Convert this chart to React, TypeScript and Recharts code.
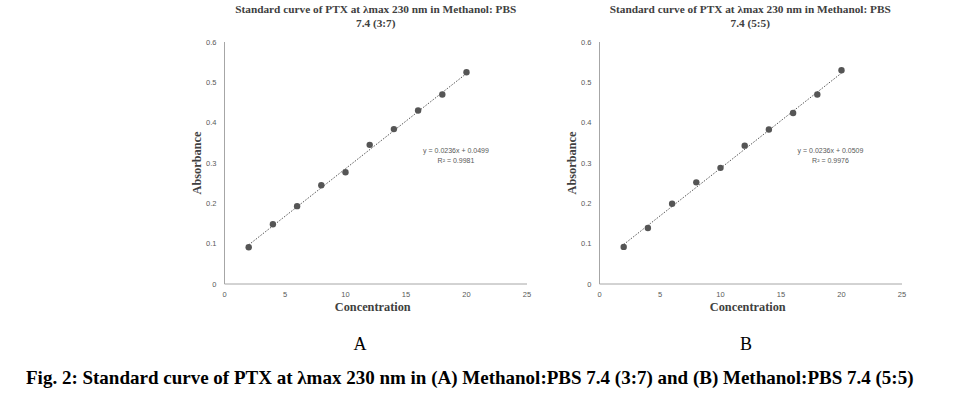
import { Scatter, ScatterChart, XAxis, YAxis } from "recharts";

// Concentration (x) shared by both curves
const concentration = [2, 4, 6, 8, 10, 12, 14, 16, 18, 20];
// Absorbance
const absorbanceA = [0.091, 0.148, 0.193, 0.245, 0.277, 0.345, 0.384, 0.43, 0.47, 0.525];
const absorbanceB = [0.092, 0.139, 0.199, 0.252, 0.288, 0.343, 0.383, 0.424, 0.47, 0.53];
// trendline end points (x = 2 and x = 20)
const trendX = [2, 20];
const trendA = [0.097, 0.522];
const trendB = [0.098, 0.523];

const xTicks = [0, 5, 10, 15, 20, 25];
const yTicks = [0, 0.1, 0.2, 0.3, 0.4, 0.5, 0.6];

const MARK = "#555555";
const AXIS = "#a6a6a6";
const TICK = "#595959";
const SERIF = "'Liberation Serif', 'Times New Roman', serif";
const SANS = "'Liberation Sans', Arial, sans-serif";

const toPoints = (xs: number[], ys: number[]) => xs.map((x, i) => ({ x, y: ys[i] }));

function Dot(props: any) {
  return <circle cx={props.cx} cy={props.cy} r={3.2} fill={MARK} />;
}

function CurveChart({
  title,
  values,
  trend,
  equation,
  r2,
  left,
}: {
  title: string[];
  values: number[];
  trend: number[];
  equation: string;
  r2: string;
  left: number;
}) {
  const points = toPoints(concentration, values);
  const trendPoints = toPoints(trendX, trend);
  return (
    <div style={{ position: "absolute", left, top: 0, width: 400, height: 330 }}>
      <div
        style={{
          position: "absolute",
          left: 74.5,
          width: 302.5,
          top: 3,
          textAlign: "center",
          fontFamily: SERIF,
          fontWeight: "bold",
          fontSize: 11.3,
          lineHeight: "13.5px",
          color: "#404040",
          whiteSpace: "nowrap",
        }}
      >
        {title.map((t) => (
          <div key={t}>{t}</div>
        ))}
      </div>
      <ScatterChart width={400} height={330} margin={{ top: 42, right: 23, left: 0, bottom: 0 }}>
        <XAxis
          type="number"
          dataKey="x"
          domain={[0, 25]}
          ticks={xTicks}
          tickLine={false}
          tickSize={0}
          tickMargin={8}
          height={46}
          stroke={AXIS}
          tick={{ fontSize: 7.5, fill: TICK, fontFamily: SANS }}
          label={{
            content: (props: any) => {
              const vb = props.viewBox;
              return (
                <text
                  x={vb.x + vb.width / 2 - 3}
                  y={vb.y + 23}
                  textAnchor="middle"
                  dominantBaseline="central"
                  fontFamily={SERIF}
                  fontWeight="bold"
                  fontSize={12.3}
                  fill="#404040"
                >
                  Concentration
                </text>
              );
            },
          }}
        />
        <YAxis
          type="number"
          dataKey="y"
          domain={[0, 0.6]}
          ticks={yTicks}
          tickLine={false}
          tickSize={0}
          tickMargin={8}
          width={74.5}
          stroke={AXIS}
          tick={{ fontSize: 7.5, fill: TICK, fontFamily: SANS }}
          label={{
            content: (props: any) => {
              const vb = props.viewBox;
              const cx = vb.x + 47;
              const cy = vb.y + vb.height / 2;
              return (
                <text
                  x={cx}
                  y={cy}
                  transform={`rotate(-90 ${cx} ${cy})`}
                  textAnchor="middle"
                  dominantBaseline="central"
                  fontFamily={SERIF}
                  fontWeight="bold"
                  fontSize={12.3}
                  fill="#404040"
                >
                  Absorbance
                </text>
              );
            },
          }}
        />
        <Scatter
          data={trendPoints}
          isAnimationActive={false}
          line={{ stroke: MARK, strokeWidth: 1, strokeDasharray: "1.5 1.5" }}
          shape={() => <g />}
        />
        <Scatter data={points} fill={MARK} isAnimationActive={false} shape={Dot} />
      </ScatterChart>
      <div
        style={{
          position: "absolute",
          left: 256,
          width: 100,
          top: 145.5,
          textAlign: "center",
          fontFamily: SANS,
          fontSize: 7,
          lineHeight: "10.5px",
          color: TICK,
          whiteSpace: "nowrap",
        }}
      >
        <div>{equation}</div>
        <div>{r2}</div>
      </div>
    </div>
  );
}

export default function App() {
  return (
    <div
      style={{
        position: "absolute",
        left: 0,
        top: 0,
        width: 978,
        height: 397,
        background: "#fff",
        overflow: "hidden",
      }}
    >
      <CurveChart
        left={150}
        title={["Standard curve of PTX at λmax 230 nm in Methanol: PBS", "7.4 (3:7)"]}
        values={absorbanceA}
        trend={trendA}
        equation="y = 0.0236x + 0.0499"
        r2="R² = 0.9981"
      />
      <CurveChart
        left={524.5}
        title={["Standard curve of PTX at λmax 230 nm in Methanol: PBS", "7.4 (5:5)"]}
        values={absorbanceB}
        trend={trendB}
        equation="y = 0.0236x + 0.0509"
        r2="R² = 0.9976"
      />
      <div
        style={{
          position: "absolute",
          left: 310,
          width: 100,
          top: 334,
          textAlign: "center",
          fontFamily: SERIF,
          fontSize: 18,
          color: "#000",
        }}
      >
        A
      </div>
      <div
        style={{
          position: "absolute",
          left: 696,
          width: 100,
          top: 334,
          textAlign: "center",
          fontFamily: SERIF,
          fontSize: 18,
          color: "#000",
        }}
      >
        B
      </div>
      <div
        style={{
          position: "absolute",
          left: 26,
          top: 367,
          fontFamily: SERIF,
          fontWeight: "bold",
          fontSize: 19,
          color: "#000",
          whiteSpace: "nowrap",
        }}
      >
        Fig. 2: Standard curve of PTX at λmax 230 nm in (A) Methanol:PBS 7.4 (3:7) and (B) Methanol:PBS 7.4 (5:5)
      </div>
    </div>
  );
}
